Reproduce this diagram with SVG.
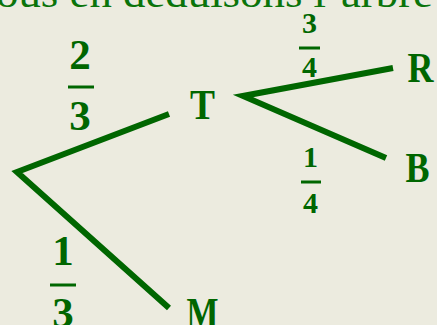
<svg xmlns="http://www.w3.org/2000/svg" width="437" height="325" viewBox="0 0 437 325">
  <style>
    .bg { fill: #ECEBDF; }
    .edge { fill: none; stroke: #006600; stroke-width: 6; stroke-linejoin: miter; stroke-miterlimit: 10; stroke-linecap: butt; }
    .lbl { font-family: "Liberation Serif", "DejaVu Serif", serif; font-weight: bold; fill: #006600; text-anchor: middle; }
    .big { font-size: 43px; }
    .small { font-size: 30px; }
    .bar { stroke: #006600; stroke-width: 3; }
    .head { font-family: "Liberation Serif", serif; font-size: 40px; fill: #0B740B; }
  </style>
  <rect class="bg" x="0" y="0" width="437" height="325"/>

  <text class="head" x="-4" y="7" textLength="437" lengthAdjust="spacingAndGlyphs">ous en déduisons l’arbre</text>

  <g id="connectors">
    <path class="edge" d="M169,114 L17,172 L169,308"/>
    <path class="edge" d="M393,68 L243,96 L386,158"/>
  </g>

  <g id="node-T"><text class="lbl big" x="202.5" y="119" textLength="25" lengthAdjust="spacingAndGlyphs">T</text></g>
  <g id="node-R"><text class="lbl big" x="420.5" y="82" textLength="26" lengthAdjust="spacingAndGlyphs">R</text></g>
  <g id="node-B"><text class="lbl big" x="417.5" y="182" textLength="24" lengthAdjust="spacingAndGlyphs">B</text></g>
  <g id="node-M"><text class="lbl big" x="202.5" y="327" textLength="32" lengthAdjust="spacingAndGlyphs">M</text></g>

  <g id="prob-T">
    <text class="lbl big" x="80" y="69">2</text>
    <line class="bar" x1="68" y1="87" x2="94" y2="87"/>
    <text class="lbl big" x="80" y="130">3</text>
  </g>
  <g id="prob-M">
    <text class="lbl big" x="63" y="265">1</text>
    <line class="bar" x1="50" y1="285" x2="76" y2="285"/>
    <text class="lbl big" x="63" y="327">3</text>
  </g>
  <g id="prob-R">
    <text class="lbl small" x="309.5" y="33">3</text>
    <line class="bar" x1="299" y1="48" x2="320" y2="48"/>
    <text class="lbl small" x="309.5" y="77">4</text>
  </g>
  <g id="prob-B">
    <text class="lbl small" x="310.5" y="167">1</text>
    <line class="bar" x1="301" y1="182" x2="321" y2="182"/>
    <text class="lbl small" x="310.5" y="213">4</text>
  </g>
</svg>
